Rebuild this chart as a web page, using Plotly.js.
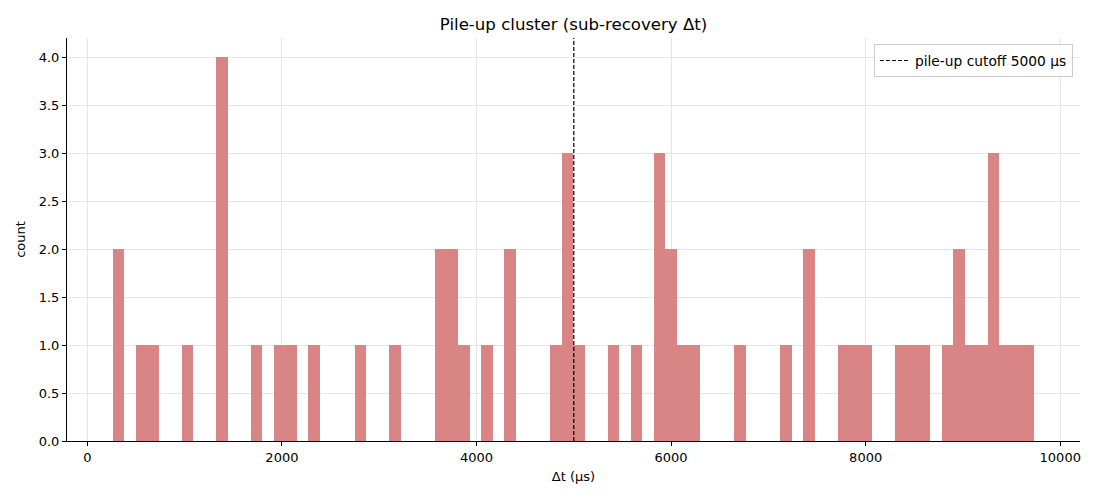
<!DOCTYPE html>
<html>
<head>
<meta charset="utf-8">
<script src="https://cdn.plot.ly/plotly-3.0.1.min.js"></script>
<style>
  body { margin: 0; background: #fff; }
  #chart { width: 1100px; height: 500px; }
</style>
</head>
<body>
<div id="chart"></div>
<script>
// histogram bins (80 bins of equal width)
const binStart = 262;
const binWidth = 118.3;
const binCounts = [
  2, 0, 1, 1, 0, 0, 1, 0, 0, 4,
  0, 0, 1, 0, 1, 1, 0, 1, 0, 0,
  0, 1, 0, 0, 1, 0, 0, 0, 2, 2,
  1, 0, 1, 0, 2, 0, 0, 0, 1, 3,
  1, 0, 0, 1, 0, 1, 0, 3, 2, 1,
  1, 0, 0, 0, 1, 0, 0, 0, 1, 0,
  2, 0, 0, 1, 1, 1, 0, 0, 1, 1,
  1, 0, 1, 2, 1, 1, 3, 1, 1, 1
];
const cutoff = 5000;
const xTicks = [0, 2000, 4000, 6000, 8000, 10000];

const binCenters = binCounts.map((_, i) => binStart + binWidth * (i + 0.5));

const font = { family: 'DejaVu Sans, sans-serif', size: 13, color: '#000' };

const traces = [
  {
    type: 'bar',
    x: binCenters,
    y: binCounts,
    width: binWidth,
    marker: { color: 'rgb(217,133,134)', line: { width: 0 } },
    showlegend: false,
    hoverinfo: 'x+y'
  },
  {
    type: 'scatter',
    mode: 'lines',
    x: [cutoff, cutoff],
    y: [0, 4.2],
    line: { color: '#000', width: 1.2, dash: '4px,2px' },
    name: 'pile-up cutoff 5000 μs'
  }
];

const layout = {
  width: 1100,
  height: 500,
  margin: { l: 67, r: 20, t: 38, b: 59 },
  paper_bgcolor: '#fff',
  plot_bgcolor: '#fff',
  font: font,
  bargap: 0,
  title: {
    text: 'Pile-up cluster (sub-recovery Δt)',
    font: { family: 'DejaVu Sans, sans-serif', size: 16.6, color: '#000' },
    xref: 'paper', x: 0.5, xanchor: 'center', y: 0.952, yanchor: 'middle'
  },
  xaxis: {
    range: [-209, 10203],
    tickvals: xTicks,
    tickformat: 'd',
    ticks: 'outside', ticklen: 4, tickcolor: '#000',
    showline: true, linecolor: '#000', linewidth: 1,
    showgrid: true, gridcolor: '#e6e6e6',
    zeroline: false,
    title: { text: 'Δt (μs)', font: font, standoff: 8 }
  },
  yaxis: {
    range: [0, 4.2],
    dtick: 0.5,
    tickformat: '.1f',
    ticks: 'outside', ticklen: 4, tickcolor: '#000',
    showline: true, linecolor: '#000', linewidth: 1,
    showgrid: true, gridcolor: '#e6e6e6',
    zeroline: false,
    title: { text: 'count', font: font, standoff: 10 }
  },
  legend: {
    x: 0.993, y: 0.985, xanchor: 'right', yanchor: 'top',
    bgcolor: 'rgba(255,255,255,0.8)',
    bordercolor: '#ccc', borderwidth: 1,
    font: { family: 'DejaVu Sans, sans-serif', size: 13.8, color: '#000' },
    tracegroupgap: 0, itemwidth: 30
  }
};

Plotly.newPlot('chart', traces, layout, { displayModeBar: false });
</script>
</body>
</html>
